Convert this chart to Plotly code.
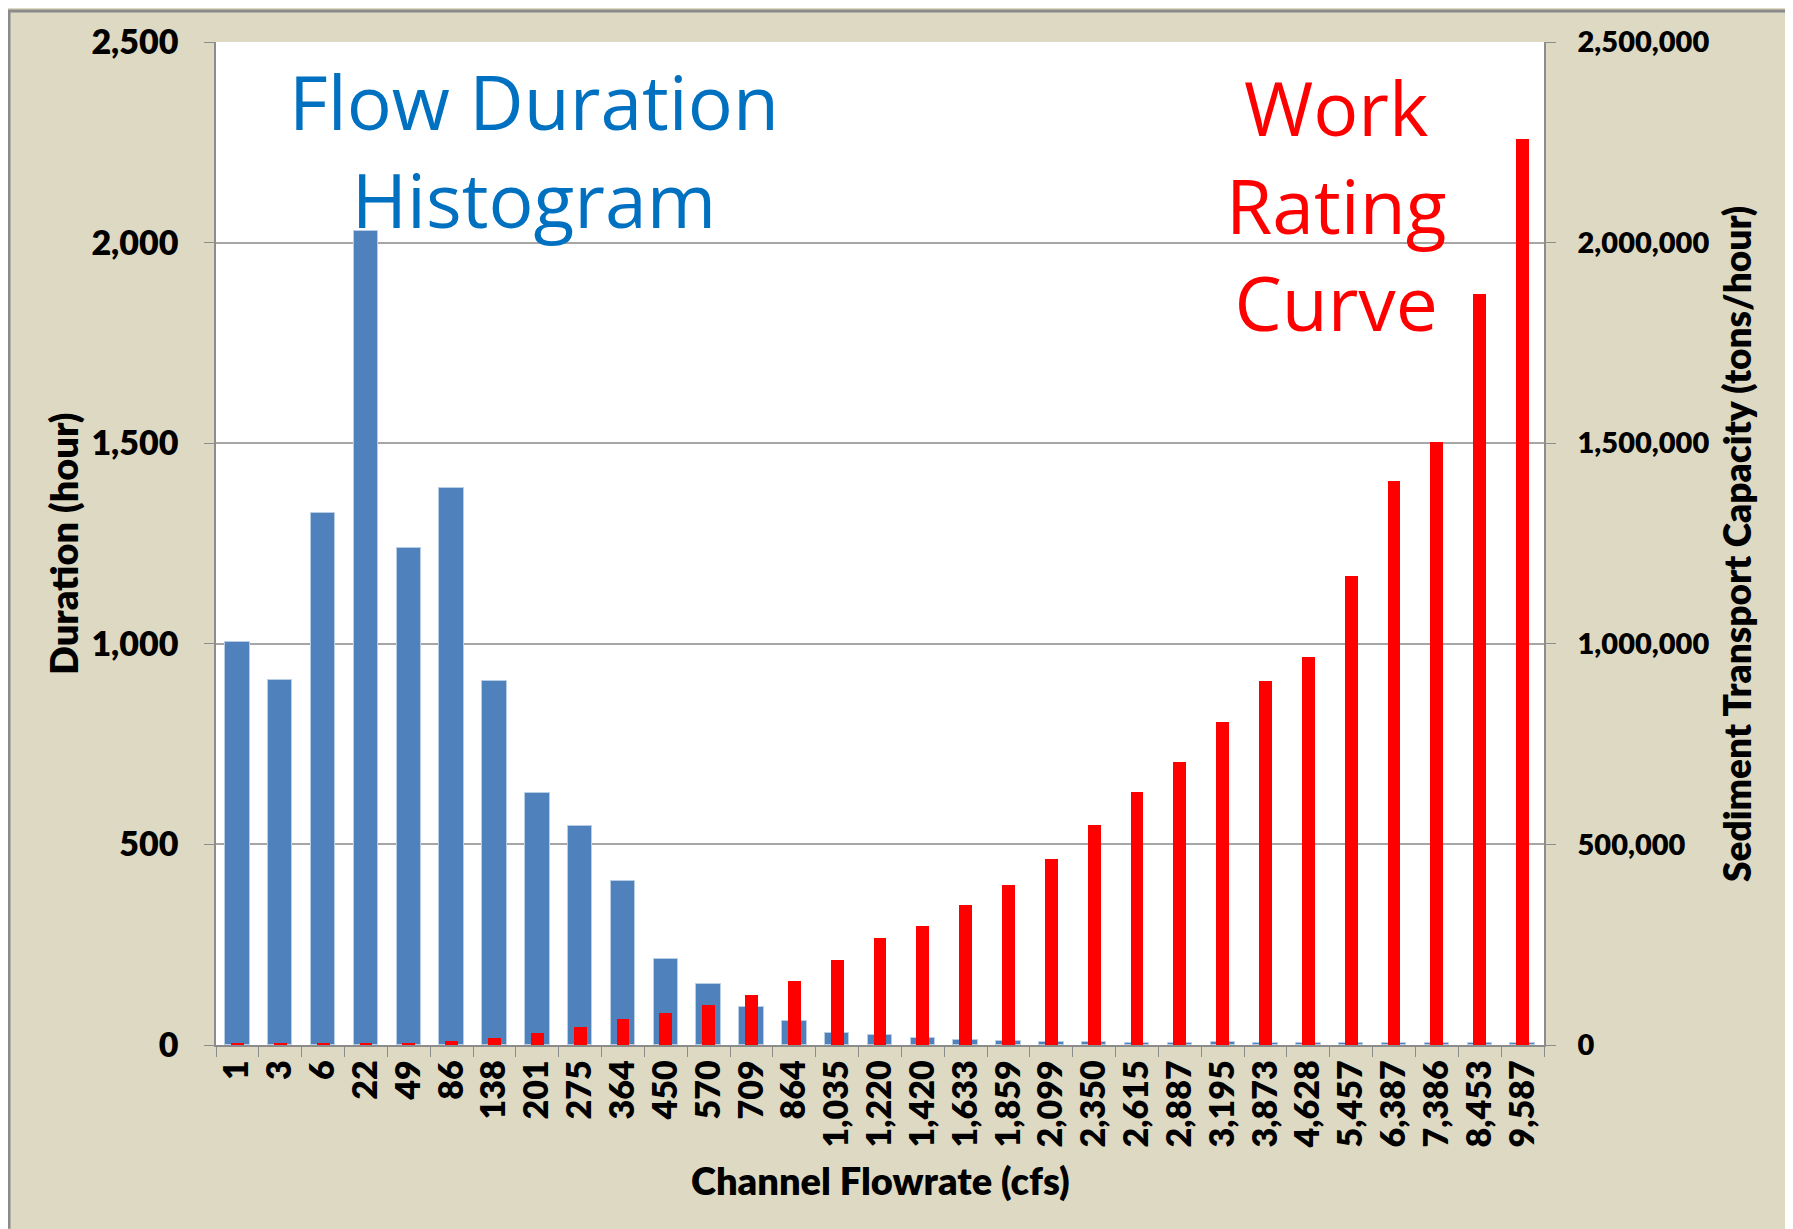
import plotly.graph_objects as go

# ---- data ----
flowrate_labels = ["1", "3", "6", "22", "49", "86", "138", "201", "275", "364", "450", "570",
                   "709", "864", "1,035", "1,220", "1,420", "1,633", "1,859", "2,099", "2,350",
                   "2,615", "2,887", "3,195", "3,873", "4,628", "5,457", "6,387", "7,386",
                   "8,453", "9,587"]
duration_hours = [1005, 910, 1325, 2028, 1240, 1388, 907, 627, 545, 408, 214, 151,
                  95, 59, 30, 24, 18, 12, 10, 7, 7, 4, 4, 7, 4, 4, 4, 4, 4, 4, 4]
sediment_capacity = [3000, 3000, 3000, 3000, 3000, 9000, 18000, 31000, 45000, 66000, 81000, 99000,
                     125000, 160000, 211000, 267000, 297000, 350000, 398000, 463000, 549000,
                     631000, 705000, 805000, 907000, 967000, 1169000, 1405000, 1502000,
                     1871000, 2258000]
left_ticks = [0, 500, 1000, 1500, 2000, 2500]
right_ticks = [0, 500000, 1000000, 1500000, 2000000, 2500000]

# figure sits at page offset (8, 8) because of the default body margin
W, H = 1785, 1221
L, R, T, B = 208, 249, 32, 184
PW, PH = W - L - R, H - T - B

def px(x):
    return (x - L) / PW

def py(y):
    return 1 - (y - T) / PH

TAN = "#DDD9C3"
GRID = "#A6A6A6"
AXIS = "#8C8C8C"
FONT = "Lato"

fig = go.Figure()
fig.add_trace(go.Bar(x=flowrate_labels, y=duration_hours, name="Duration",
                     marker=dict(color="#4F81BD", line=dict(color="#B9CDE5", width=1)),
                     width=0.57, yaxis="y"))
fig.add_trace(go.Bar(x=flowrate_labels, y=sediment_capacity, name="Sediment",
                     marker=dict(color="#FF0000", line=dict(width=0)),
                     width=0.30, yaxis="y2"))

tickfont = dict(family=FONT, size=34, color="black", weight=800)
tickfont_r = dict(family=FONT, size=29, color="black", weight=800)

fig.update_layout(
    width=W, height=H,
    margin=dict(l=L, r=R, t=T, b=B),
    paper_bgcolor=TAN, plot_bgcolor="white",
    barmode="overlay", showlegend=False, bargap=0,
    xaxis=dict(type="category", tickangle=-90, tickfont=tickfont,
               tickmode="array", tickvals=flowrate_labels, ticktext=flowrate_labels,
               showline=True, linecolor=AXIS, linewidth=1.5,
               ticks="outside", ticklen=10, tickcolor=AXIS, tickson="boundaries",
               showgrid=False, range=[-0.5, len(flowrate_labels) - 0.5]),
    yaxis=dict(range=[0, 2500], tickvals=left_ticks, tickformat=",d", tickfont=tickfont,
               showline=True, linecolor=AXIS, linewidth=1.5, ticks="outside", ticklen=10,
               tickcolor=AXIS, showgrid=True, gridcolor=GRID, gridwidth=1.5,
               zeroline=False, ticklabelstandoff=19),
    yaxis2=dict(range=[0, 2500000], tickvals=right_ticks, tickformat=",d", tickfont=tickfont_r,
                overlaying="y", side="right", showline=True, linecolor=AXIS, linewidth=1.5,
                ticks="outside", ticklen=10, tickcolor=AXIS, showgrid=False, zeroline=False,
                ticklabelstandoff=16),
)

title_font = dict(family=FONT, size=38, color="black", weight=800)
# axis titles
fig.add_annotation(text="Duration (hour)", x=px(55), y=py(535), xref="paper", yref="paper",
                   xanchor="center", yanchor="middle", textangle=-90, showarrow=False,
                   font=title_font)
fig.add_annotation(text="Sediment Transport Capacity (tons/hour)", x=px(1729), y=py(535),
                   xref="paper", yref="paper", xanchor="center", yanchor="middle",
                   textangle=-90, showarrow=False,
                   font=dict(family=FONT, size=37, color="black", weight=800))
fig.add_annotation(text="Channel Flowrate (cfs)", x=px(872), y=py(1172), xref="paper",
                   yref="paper", xanchor="center", yanchor="middle", showarrow=False,
                   font=title_font)

# chart labels
fig.add_annotation(text="Flow Duration<br>Histogram", x=px(526), y=py(140), xref="paper",
                   yref="paper", xanchor="center", yanchor="middle", showarrow=False,
                   font=dict(family="Open Sans", size=75, color="#0070C0"))
fig.add_annotation(text="Work<br>Rating<br>Curve", x=px(1328), y=py(195), xref="paper",
                   yref="paper", xanchor="center", yanchor="middle", showarrow=False,
                   font=dict(family="Open Sans", size=75, color="#FF0000"))

# outer slide border (figure edges)
fig.add_shape(type="line", xref="paper", yref="paper", x0=px(0), x1=px(1785), y0=py(1), y1=py(1),
              line=dict(color="#8A8A8A", width=3))
fig.add_shape(type="line", xref="paper", yref="paper", x0=px(1), x1=px(1), y0=py(1), y1=py(H),
              line=dict(color="#8A8A8A", width=3))
fig.add_shape(type="line", xref="paper", yref="paper", x0=px(1784), x1=px(1784), y0=py(1),
              y1=py(H), line=dict(color="#8A8A8A", width=3))

fig.write_html("out.html")
